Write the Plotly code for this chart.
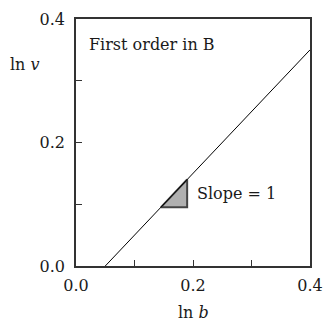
import plotly.graph_objects as go

# Data
line_x = [0.05, 0.4]
line_y = [0.0, 0.35]
tri_x = [0.145, 0.19, 0.19, 0.145]
tri_y = [0.095, 0.095, 0.14, 0.095]
tick_vals = [0.0, 0.1, 0.2, 0.3, 0.4]
tick_text = ["0.0", "", "0.2", "", "0.4"]

FONT = "DejaVu Serif"
FS = 16

fig = go.Figure()
fig.add_trace(go.Scatter(x=tri_x, y=tri_y, mode="lines", fill="toself",
                         fillcolor="#b0b0b0", line=dict(color="#444444", width=2),
                         hoverinfo="skip", showlegend=False))
fig.add_trace(go.Scatter(x=line_x, y=line_y, mode="lines",
                         line=dict(color="black", width=1),
                         showlegend=False))

axis_common = dict(range=[0, 0.4], tickvals=tick_vals, ticktext=tick_text,
                   ticks="inside", ticklen=6, tickwidth=1, tickcolor="#333",
                   showline=True, linecolor="#333", linewidth=1.5, mirror=True,
                   showgrid=False, zeroline=False, automargin=False,
                   tickfont=dict(family=FONT, size=FS, color="#1a1a1a"))

fig.update_xaxes(**axis_common, ticklabelstandoff=4)
fig.update_yaxes(**axis_common, ticklabelstandoff=6)

fig.add_annotation(x=0.5, y=-0.19, xref="paper", yref="paper", showarrow=False,
                   text="ln <i>b</i>", font=dict(family=FONT, size=FS, color="#1a1a1a"),
                   xanchor="center", yanchor="middle")
fig.add_annotation(x=-0.29, y=0.814, xref="paper", yref="paper", showarrow=False,
                   text="ln <i>v</i>", font=dict(family=FONT, size=FS, color="#1a1a1a"),
                   xanchor="left", yanchor="middle")
fig.add_annotation(x=0.045, y=0.895, xref="paper", yref="paper", showarrow=False,
                   text="First order in B", font=dict(family=FONT, size=FS, color="#1a1a1a"),
                   xanchor="left", yanchor="middle")
fig.add_annotation(x=0.204, y=0.118, showarrow=False,
                   text="Slope = 1", font=dict(family=FONT, size=FS, color="#1a1a1a"),
                   xanchor="left", yanchor="middle")

fig.update_layout(width=325, height=324, margin=dict(l=76, r=15, t=19, b=58),
                  plot_bgcolor="white", paper_bgcolor="white")

fig.write_html("out.html", config={"displayModeBar": False},
               post_script="document.body.style.margin='0px';")
